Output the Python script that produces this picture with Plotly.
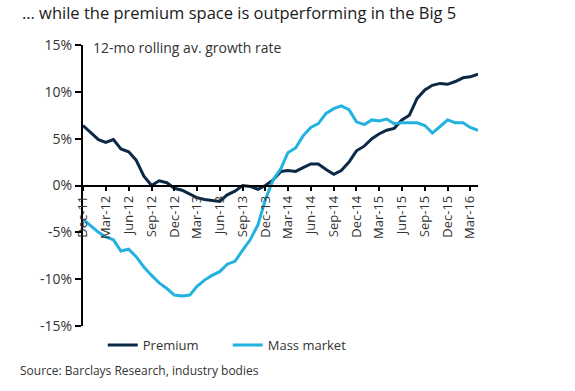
import pandas as pd
import plotly.graph_objects as go

months = pd.date_range("2011-12-01", "2016-04-01", freq="MS")

premium = [6.4, 5.6, 4.9, 4.6, 4.9, 3.9, 3.6, 2.7, 1.0, 0.0, 0.5, 0.3,
           -0.3, -0.5, -0.9, -1.3, -1.5, -1.6, -1.7, -1.0, -0.6, 0.0, -0.1, -0.4,
           0.0, 0.6, 1.5, 1.6, 1.5, 1.9, 2.3, 2.3, 1.7, 1.2, 1.6, 2.5,
           3.7, 4.2, 5.0, 5.5, 5.9, 6.1, 7.0, 7.5, 9.3, 10.2, 10.7, 10.9,
           10.8, 11.1, 11.5, 11.6, 11.9]

mass_market = [-3.6, -4.3, -5.0, -5.5, -5.8, -7.0, -6.8, -7.6, -8.7, -9.6, -10.4, -11.0,
               -11.7, -11.8, -11.7, -10.8, -10.1, -9.6, -9.2, -8.4, -8.1, -6.9, -5.8, -4.2,
               -1.5, 0.6, 1.8, 3.5, 4.0, 5.3, 6.2, 6.6, 7.7, 8.2, 8.5, 8.1,
               6.8, 6.5, 7.0, 6.9, 7.1, 6.6, 6.7, 6.7, 6.7, 6.4, 5.6, 6.3,
               7.0, 6.7, 6.7, 6.2, 5.9]

tick_labels = ["Dec-11", "Mar-12", "Jun-12", "Sep-12", "Dec-12", "Mar-13", "Jun-13",
               "Sep-13", "Dec-13", "Mar-14", "Jun-14", "Sep-14", "Dec-14", "Mar-15",
               "Jun-15", "Sep-15", "Dec-15", "Mar-16"]
tick_dates = pd.date_range("2011-12-01", "2016-03-01", freq="3MS")

y_ticks = [-15, -10, -5, 0, 5, 10, 15]
y_labels = ["-15%", "-10%", "-5%", "0%", "5%", "10%", "15%"]

FONT = "Open Sans"
TXT = "#333333"

fig = go.Figure()
fig.add_trace(go.Scatter(x=months, y=premium, mode="lines", name="Premium",
                         line=dict(color="#0c2a47", width=3)))
fig.add_trace(go.Scatter(x=months, y=mass_market, mode="lines", name="Mass market",
                         line=dict(color="#22b2e0", width=3)))

PW, PH = 395, 281

fig.update_layout(
    width=575, height=391,
    margin=dict(l=83, r=97, t=45, b=65),
    plot_bgcolor="white", paper_bgcolor="white",
    font=dict(family=FONT, size=12, color=TXT),
    showlegend=True,
    legend=dict(orientation="h", x=0.05, xanchor="left", y=-0.068, yanchor="middle",
                font=dict(family=FONT, size=13, color=TXT), entrywidth=80,
                bgcolor="rgba(0,0,0,0)"),
    xaxis=dict(
        range=[months[0], months[-1]],
        tickvals=tick_dates, ticktext=tick_labels, tickangle=-90,
        showgrid=False, zeroline=False,
        showline=True, linecolor="black", linewidth=2,
        ticks="outside", ticklen=4, tickcolor="black", tickwidth=1.5,
        anchor="free", position=0.5,
        tickfont=dict(family=FONT, size=13, color=TXT),
    ),
    yaxis=dict(
        range=[-15, 15], tickvals=y_ticks, ticktext=y_labels,
        showgrid=False, zeroline=False,
        showline=True, linecolor="black", linewidth=2,
        ticks="outside", ticklen=6, tickcolor="black", tickwidth=1.5,
        tickfont=dict(family=FONT, size=14, color=TXT),
    ),
    annotations=[
        dict(text="… while the premium space is outperforming in the Big 5",
             xref="paper", yref="paper", x=-63 / PW, y=1 + 32 / PH,
             xanchor="left", yanchor="middle", showarrow=False,
             font=dict(family=FONT, size=16.5, color="#1a1a1a")),
        dict(text="12-mo rolling av. growth rate",
             xref="paper", yref="paper", x=8 / PW, y=1 - 3 / PH,
             xanchor="left", yanchor="middle", showarrow=False,
             font=dict(family=FONT, size=14, color=TXT)),
        dict(text="Source: Barclays Research, industry bodies",
             xref="paper", yref="paper", x=-65 / PW, y=-44 / PH,
             xanchor="left", yanchor="middle", showarrow=False,
             font=dict(family=FONT, size=12, color=TXT)),
    ],
)

fig.write_html("out.html", config={"displayModeBar": False},
               post_script="document.body.style.margin='0';")
